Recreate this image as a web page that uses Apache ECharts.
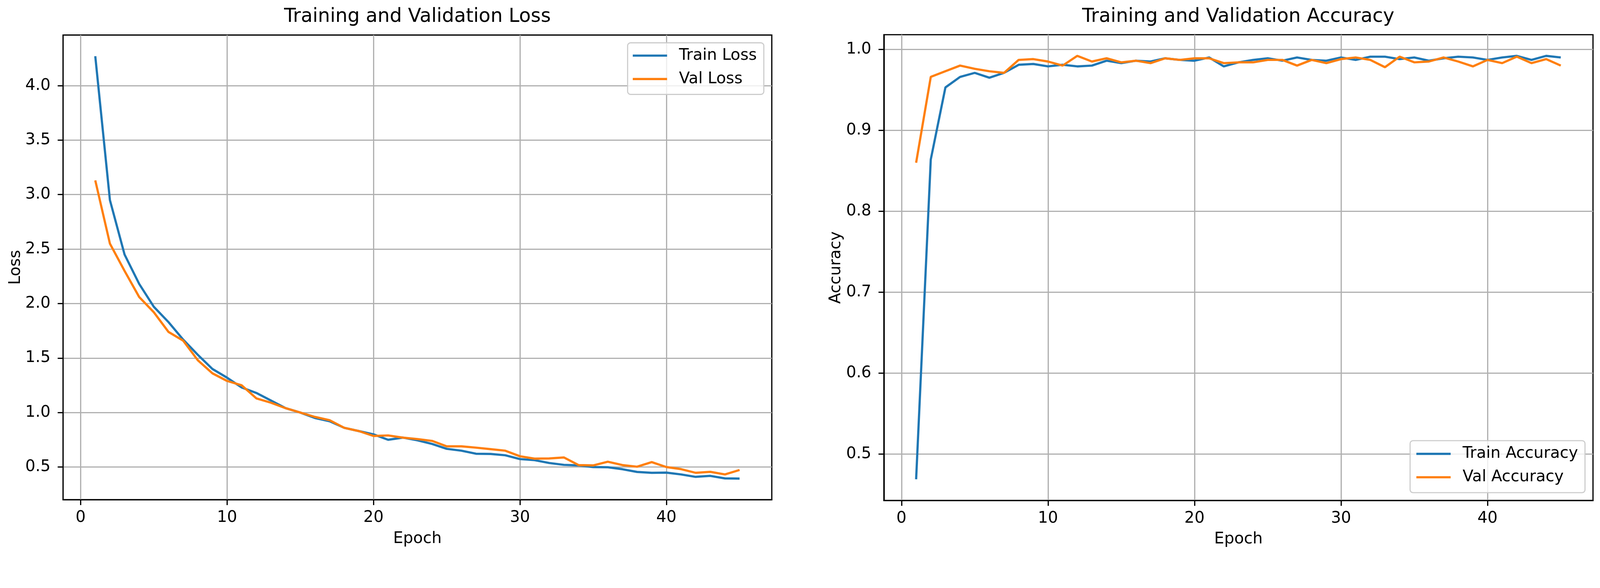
<!DOCTYPE html>
<html>
<head>
<meta charset="utf-8">
<script src="https://cdn.jsdelivr.net/npm/echarts@6/dist/echarts.min.js"></script>
<style>
  html, body { margin: 0; padding: 0; background: #fff; overflow: hidden; }
  #chart { width: 100vw; height: 100vh; }
</style>
</head>
<body>
<div id="chart"></div>
<script>
// values
const epochs = [];
for (let i = 1; i <= 45; i++) epochs.push(i);

const trainLoss = [4.27, 2.95, 2.45, 2.18, 1.97, 1.83, 1.67, 1.53, 1.40, 1.32,
    1.23, 1.18, 1.11, 1.04, 1.00, 0.95, 0.92, 0.86, 0.83, 0.80,
    0.75, 0.77, 0.745, 0.712, 0.667, 0.65, 0.622, 0.62, 0.608, 0.573,
    0.563, 0.537, 0.52, 0.515, 0.50, 0.498, 0.48, 0.455, 0.447, 0.449,
    0.432, 0.41, 0.419, 0.396, 0.394];
const valLoss = [3.13, 2.55, 2.30, 2.06, 1.92, 1.74, 1.66, 1.48, 1.36, 1.29,
    1.25, 1.13, 1.09, 1.04, 1.00, 0.96, 0.93, 0.86, 0.83, 0.785,
    0.79, 0.77, 0.757, 0.74, 0.69, 0.69, 0.678, 0.664, 0.65, 0.599,
    0.577, 0.579, 0.588, 0.518, 0.515, 0.549, 0.518, 0.503, 0.545, 0.50,
    0.481, 0.447, 0.456, 0.432, 0.473];
const trainAcc = [0.469, 0.864, 0.953, 0.966, 0.971, 0.965, 0.971, 0.981, 0.982, 0.979,
    0.981, 0.979, 0.980, 0.986, 0.983, 0.986, 0.985, 0.989, 0.987, 0.986,
    0.990, 0.979, 0.984, 0.987, 0.989, 0.986, 0.990, 0.987, 0.986, 0.990,
    0.987, 0.991, 0.991, 0.988, 0.990, 0.986, 0.989, 0.991, 0.990, 0.987,
    0.990, 0.992, 0.987, 0.992, 0.990];
const valAcc = [0.860, 0.966, 0.973, 0.980, 0.976, 0.973, 0.971, 0.987, 0.988, 0.985,
    0.980, 0.992, 0.985, 0.989, 0.984, 0.986, 0.983, 0.989, 0.987, 0.989,
    0.989, 0.983, 0.984, 0.984, 0.987, 0.987, 0.980, 0.987, 0.983, 0.988,
    0.990, 0.987, 0.978, 0.991, 0.984, 0.985, 0.990, 0.985, 0.979, 0.987,
    0.983, 0.991, 0.983, 0.988, 0.980];

const xTicks = [0, 10, 20, 30, 40];
const lossTicks = [0.5, 1.0, 1.5, 2.0, 2.5, 3.0, 3.5, 4.0];
const accTicks = [0.5, 0.6, 0.7, 0.8, 0.9, 1.0];

const FONT = 'DejaVu Sans';
const BLUE = '#1f77b4';
const ORANGE = '#ff7f0e';

// layout is measured in reference pixels, scaled to whatever css width we get
const S = window.innerWidth / 4339;
const px = v => v * S;

// matplotlib style 5% margins
function padded(arrs) {
    let lo = Infinity, hi = -Infinity;
    arrs.forEach(a => a.forEach(v => { lo = Math.min(lo, v); hi = Math.max(hi, v); }));
    const m = (hi - lo) * 0.05;
    return [lo - m, hi + m];
}
const xr = padded([epochs]);
const lossR = padded([trainLoss, valLoss]);
const accR = padded([trainAcc, valAcc]);

function pairs(ys) {
    return epochs.map((e, i) => [e, ys[i]]);
}

function xAxisFor(idx) {
    return {
        type: 'value', gridIndex: idx, min: xr[0], max: xr[1],
        name: 'Epoch', nameLocation: 'middle', nameGap: px(84),
        nameTextStyle: {fontFamily: FONT, fontSize: px(43), color: '#000'},
        axisLine: {onZero: false, lineStyle: {color: '#000', width: px(3.3)}},
        axisTick: {customValues: xTicks, length: px(14.6), lineStyle: {color: '#000', width: px(3.3)}},
        axisLabel: {customValues: xTicks, margin: px(27), fontFamily: FONT, fontSize: px(43), color: '#000'},
        splitLine: {show: true, lineStyle: {color: '#b0b0b0', width: px(3.3)}}
    };
}

function yAxisFor(idx, range, ticks, name, gap) {
    return {
        type: 'value', gridIndex: idx, min: range[0], max: range[1],
        name: name, nameLocation: 'middle', nameGap: px(gap),
        nameTextStyle: {fontFamily: FONT, fontSize: px(43), color: '#000'},
        axisLine: {show: true, onZero: false, lineStyle: {color: '#000', width: px(3.3)}},
        axisTick: {show: true, customValues: ticks, length: px(14.6), lineStyle: {color: '#000', width: px(3.3)}},
        axisLabel: {
            customValues: ticks, margin: px(34), fontFamily: FONT, fontSize: px(43), color: '#000',
            formatter: v => v.toFixed(1)
        },
        splitLine: {show: true, lineStyle: {color: '#b0b0b0', width: px(3.3)}}
    };
}

function legendFor(left, top, names, pad) {
    return {
        orient: 'vertical', left: px(left), top: px(top), data: names,
        icon: 'rect', itemWidth: px(93), itemHeight: px(6), itemGap: px(20),
        padding: pad.map(px),
        backgroundColor: 'rgba(255,255,255,0.8)',
        borderColor: '#cccccc', borderWidth: px(3), borderRadius: px(8),
        textStyle: {fontFamily: FONT, fontSize: px(43), color: '#000', padding: [0, 0, 0, px(27)]}
    };
}

function line(name, ys, color, idx) {
    return {
        name: name, type: 'line', xAxisIndex: idx, yAxisIndex: idx,
        data: pairs(ys), showSymbol: false, symbol: 'none',
        lineStyle: {color: color, width: px(6)}, itemStyle: {color: color},
        animation: false
    };
}

function grid(left, top, width, height) {
    return {
        left: px(left), top: px(top), width: px(width), height: px(height),
        show: true, borderColor: '#000', borderWidth: px(3.3), backgroundColor: '#fff'
    };
}

function title(text, cx) {
    return {
        text: text, left: px(cx), top: px(20), textAlign: 'center', padding: 0,
        textStyle: {fontFamily: FONT, fontSize: px(52), fontWeight: 'normal', color: '#000'}
    };
}

let myChart = echarts.init(document.getElementById('chart'));

myChart.setOption({
    backgroundColor: '#fff',
    animation: false,
    title: [
        title('Training and Validation Loss', 1132),
        title('Training and Validation Accuracy', 3358)
    ],
    grid: [grid(171, 95, 1922, 1259), grid(2397, 94, 1923, 1262)],
    xAxis: [xAxisFor(0), xAxisFor(1)],
    yAxis: [
        yAxisFor(0, lossR, lossTicks, 'Loss', 106),
        yAxisFor(1, accR, accTicks, 'Accuracy', 108)
    ],
    legend: [
        legendFor(1702, 116, ['Train Loss', 'Val Loss'], [13, 19, 20, 14]),
        legendFor(3824, 1194, ['Train Accuracy', 'Val Accuracy'], [14, 19, 20, 17])
    ],
    series: [
        line('Train Loss', trainLoss, BLUE, 0),
        line('Val Loss', valLoss, ORANGE, 0),
        line('Train Accuracy', trainAcc, BLUE, 1),
        line('Val Accuracy', valAcc, ORANGE, 1)
    ]
});
</script>
</body>
</html>
